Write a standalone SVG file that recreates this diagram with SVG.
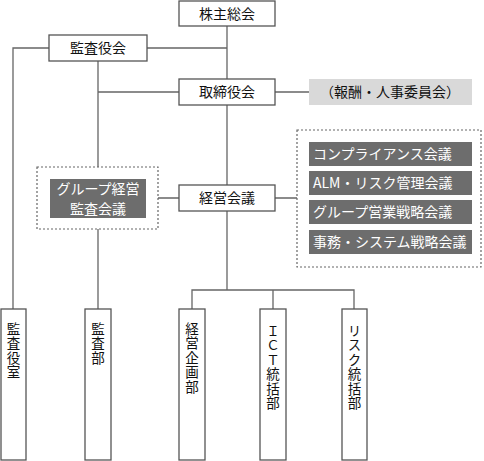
<svg xmlns="http://www.w3.org/2000/svg" width="484" height="461" viewBox="0 0 484 461">
<style>
text{font-family:"Noto Sans CJK JP","Noto Sans",sans-serif;font-size:14px;fill:#111}
.v{font-size:13.5px;writing-mode:vertical-rl;text-orientation:upright;letter-spacing:1px}
.box{fill:#fff;stroke:#555;stroke-width:1.3}
.g{fill:#6d6d6d}
.w{fill:#fff}
.ln{stroke:#666;stroke-width:1.3;fill:none}
.dot{fill:none;stroke:#666;stroke-width:1.2;stroke-dasharray:2 2}
.c{text-anchor:middle}
</style>
<rect width="484" height="461" fill="#fff"/>
<g id="connectors">
<path class="ln" d="M227 26V79M227 105V185M227 211V290M192 309V290H354V309M273 290V309"/>
<path class="ln" d="M147 48H227M49 48H13V309"/>
<path class="ln" d="M98 61V167M98 229V309M98 92H179"/>
<path class="ln" d="M275 92H309M275 198H297M158 198H179"/>
</g>
<g id="kabunushi"><rect class="box" x="179" y="1" width="96" height="25"/><text class="c" x="227" y="18.5">株主総会</text></g>
<g id="kansayakukai"><rect class="box" x="49" y="35" width="98" height="26"/><text class="c" x="98" y="53">監査役会</text></g>
<g id="torishimariyakukai"><rect class="box" x="179" y="79" width="96" height="26"/><text class="c" x="227" y="97">取締役会</text></g>
<g id="houshu"><rect x="309" y="79" width="163" height="26" fill="#d9d9d9"/><text class="c" x="390" y="97">（報酬・人事委員会）</text></g>
<g id="keiei"><rect class="box" x="179" y="185" width="96" height="26"/><text class="c" x="227" y="203">経営会議</text></g>
<g id="committees">
<rect class="dot" x="297" y="130" width="184" height="137"/>
<rect class="g" x="309" y="142" width="163" height="24"/><text class="w" x="313" y="159">コンプライアンス会議</text>
<rect class="g" x="309" y="171" width="163" height="24"/><text class="w" x="313" y="188">ALM・リスク管理会議</text>
<rect class="g" x="309" y="200" width="163" height="24"/><text class="w" x="313" y="217">グループ営業戦略会議</text>
<rect class="g" x="309" y="230" width="163" height="24"/><text class="w" x="313" y="247" font-size="14.6">事務・システム戦略会議</text>
</g>
<g id="group-kansa">
<rect class="dot" x="37" y="167" width="121" height="62"/>
<rect class="g" x="50" y="179" width="96" height="39"/>
<text class="w c" x="98" y="194" font-size="13.5">グループ経営</text>
<text class="w c" x="98" y="213.5" font-size="13.5">監査会議</text>
</g>
<g id="kansayakushitsu"><rect class="box" x="1" y="309" width="25" height="151"/><text class="v" x="13.5" y="322">監査役室</text></g>
<g id="kansabu"><rect class="box" x="85" y="309" width="26" height="151"/><text class="v" x="98" y="322">監査部</text></g>
<g id="keieikikakubu"><rect class="box" x="179" y="309" width="26" height="151"/><text class="v" x="192" y="322">経営企画部</text></g>
<g id="ictbu"><rect class="box" x="260" y="309" width="26" height="151"/><text class="v" x="273" y="324">ＩＣＴ統括部</text></g>
<g id="riskbu"><rect class="box" x="342" y="309" width="25" height="151"/><text class="v" x="354.5" y="324">リスク統括部</text></g>
</svg>
